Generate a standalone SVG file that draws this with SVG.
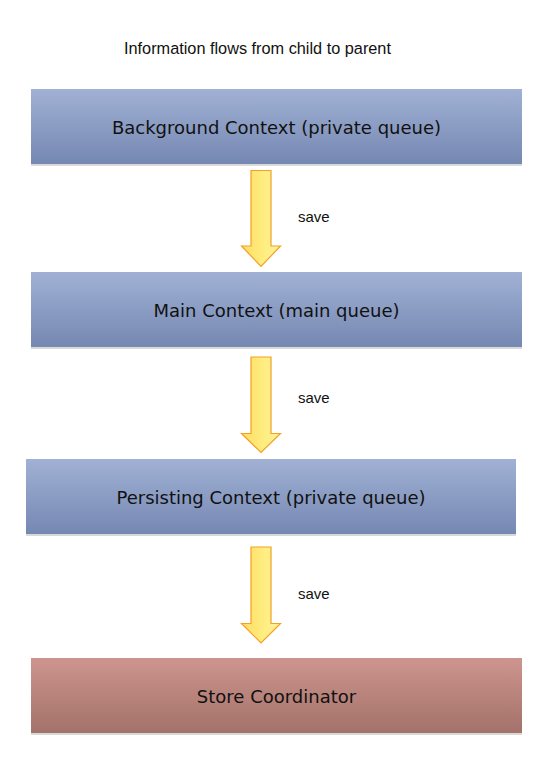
<svg xmlns="http://www.w3.org/2000/svg" width="559" height="783" viewBox="0 0 559 783">
<style>
.lbl{font-family:"DejaVu Sans",Verdana,sans-serif;font-size:18px;fill:#111;text-anchor:middle}
.cap{font-family:"Liberation Sans",Arial,Helvetica,sans-serif;font-size:15px;fill:#111}
.ttl{font-family:"Liberation Sans",Arial,Helvetica,sans-serif;font-size:16.3px;fill:#111}
.shadow{fill:#d9d9d9}
.arrow{fill:url(#ag);stroke:#f2a126;stroke-width:1.2;stroke-linejoin:miter}
</style>
<defs>
<linearGradient id="bg" x1="0" y1="0" x2="0" y2="1">
<stop offset="0" stop-color="#a1b1d5"/>
<stop offset="1" stop-color="#7588b2"/>
</linearGradient>
<linearGradient id="rg" x1="0" y1="0" x2="0" y2="1">
<stop offset="0" stop-color="#cd958d"/>
<stop offset="1" stop-color="#a3726a"/>
</linearGradient>
<linearGradient id="ag" x1="0" y1="0" x2="1" y2="0">
<stop offset="0" stop-color="#ffdb62"/>
<stop offset="0.6" stop-color="#ffee82"/>
<stop offset="1" stop-color="#fff09a"/>
</linearGradient>
</defs>
<rect width="559" height="783" fill="#fff"/>
<text class="ttl" x="124" y="54">Information flows from child to parent</text>
<g id="background">
<rect class="shadow" x="31" y="164" width="491" height="2"/>
<rect x="31" y="89" width="491" height="75" fill="url(#bg)"/>
<text class="lbl" x="276.5" y="134">Background Context (private queue)</text>
</g>
<g id="main">
<rect class="shadow" x="31" y="347" width="491" height="2"/>
<rect x="31" y="272" width="491" height="75" fill="url(#bg)"/>
<text class="lbl" x="276.5" y="317">Main Context (main queue)</text>
</g>
<g id="persisting">
<rect class="shadow" x="26" y="534" width="490" height="2"/>
<rect x="26" y="459" width="490" height="75" fill="url(#bg)"/>
<text class="lbl" x="271" y="504">Persisting Context (private queue)</text>
</g>
<g id="store">
<rect class="shadow" x="31" y="733" width="491" height="2"/>
<rect x="31" y="658" width="491" height="75" fill="url(#rg)"/>
<text class="lbl" x="276.5" y="703">Store Coordinator</text>
</g>
<g id="connectors">
<path class="arrow" d="M251 170.5 H271 V246 H280.5 L261 266.5 L241.5 246 H251 Z"/>
<text class="cap" x="298" y="222">save</text>
<path class="arrow" d="M251 357 H271 V433.5 H280.5 L261 452.5 L241.5 433.5 H251 Z"/>
<text class="cap" x="298" y="403">save</text>
<path class="arrow" d="M251 547 H271 V623.5 H280.5 L261 643 L241.5 623.5 H251 Z"/>
<text class="cap" x="298" y="599">save</text>
</g>
</svg>
